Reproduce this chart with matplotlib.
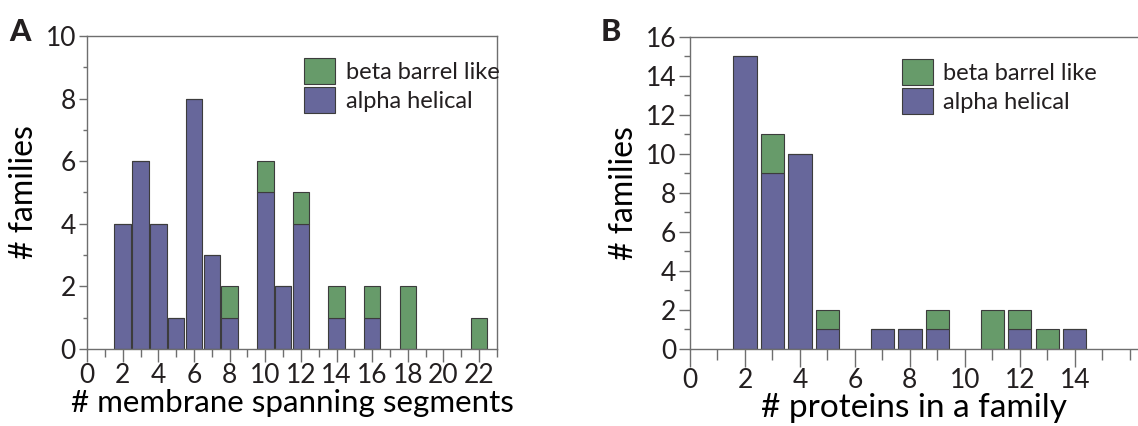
import numpy as np
import matplotlib
matplotlib.use("Agg")
import matplotlib.pyplot as plt
from matplotlib.ticker import MultipleLocator
from matplotlib.patches import Patch

# panel A: families per number of membrane spanning segments
seg_x = [2, 3, 4, 5, 6, 7, 8, 10, 11, 12, 14, 16, 18, 22]
seg_alpha = [4, 6, 4, 1, 8, 3, 1, 5, 2, 4, 1, 1, 0, 0]
seg_beta = [0, 0, 0, 0, 0, 0, 1, 1, 0, 1, 1, 1, 2, 1]

# panel B: families per number of proteins in a family
prot_x = [2, 3, 4, 5, 7, 8, 9, 11, 12, 13, 14]
prot_alpha = [15, 9, 10, 1, 1, 1, 1, 0, 1, 0, 1]
prot_beta = [0, 2, 0, 1, 0, 0, 1, 2, 1, 1, 0]

PURPLE = "#67679b"
GREEN = "#679b6a"
EDGE = "#3c3c3c"
TXT = "#231f20"
AXC = "#6e6e6e"

plt.rcParams["font.family"] = ["Lato", "DejaVu Sans"]
plt.rcParams["text.color"] = TXT

fig = plt.figure(figsize=(11.38, 4.26), dpi=100)


def style(ax, xmax, ymax, xmaj, xmin, ymaj, ymin):
    ax.set_xlim(0, xmax)
    ax.set_ylim(0, ymax)
    for s in ax.spines.values():
        s.set_color(AXC)
        s.set_linewidth(1.0)
    ax.tick_params(which="both", direction="out", colors=AXC, labelcolor=TXT,
                   labelsize=19, width=1.0)
    ax.tick_params(axis="x", which="major", length=xmaj, pad=1)
    ax.tick_params(axis="x", which="minor", length=xmin)
    ax.tick_params(axis="y", which="major", length=ymaj, pad=2)
    ax.tick_params(axis="y", which="minor", length=ymin)
    ax.xaxis.set_minor_locator(MultipleLocator(1))
    ax.yaxis.set_minor_locator(MultipleLocator(1))


def add_legend(ax, loc):
    handles = [Patch(facecolor=GREEN, edgecolor=EDGE, linewidth=0.8, label="beta barrel like"),
               Patch(facecolor=PURPLE, edgecolor=EDGE, linewidth=0.8, label="alpha helical")]
    ax.legend(handles=handles, loc="upper left", bbox_to_anchor=loc, frameon=False,
              fontsize=17, handlelength=1.3, handleheight=1.3, handletextpad=0.45,
              labelspacing=0.15, borderaxespad=0, borderpad=0)


# ---- panel A
ax1 = fig.add_axes([0.0765, 0.1808, 0.3602, 0.7347])
ax1.bar(seg_x, seg_alpha, width=0.93, color=PURPLE, edgecolor=EDGE, linewidth=0.8)
ax1.bar(seg_x, seg_beta, width=0.93, bottom=seg_alpha, color=GREEN, edgecolor=EDGE, linewidth=0.8)
style(ax1, 23, 10, 9, 6, 6, 3)
ax1.set_xticks(np.arange(0, 23, 2))
ax1.set_yticks(np.arange(0, 11, 2))
ax1.set_xlabel("# membrane spanning segments", fontsize=22.5, labelpad=1)
ax1.set_ylabel("# families", fontsize=23, labelpad=5)
add_legend(ax1, (0.53, 0.93))
fig.text(0.008, 0.925, "A", fontsize=22, fontweight="black", va="center")

# ---- panel B
ax2 = fig.add_axes([0.6063, 0.1808, 0.3937, 0.7324])
ax2.bar(prot_x, prot_alpha, width=0.85, color=PURPLE, edgecolor=EDGE, linewidth=0.8)
ax2.bar(prot_x, prot_beta, width=0.85, bottom=prot_alpha, color=GREEN, edgecolor=EDGE, linewidth=0.8)
style(ax2, 16.3, 16, 13, 8, 8, 4)
ax2.spines["right"].set_visible(False)
ax2.set_xticks(np.arange(0, 15, 2))
ax2.set_yticks(np.arange(0, 17, 2))
ax2.set_xlabel("# proteins in a family", fontsize=24, labelpad=0)
ax2.set_ylabel("# families", fontsize=23, labelpad=5)
add_legend(ax2, (0.473, 0.93))
fig.text(0.528, 0.925, "B", fontsize=22, fontweight="black", va="center")

fig.savefig("out.png", dpi=100)
